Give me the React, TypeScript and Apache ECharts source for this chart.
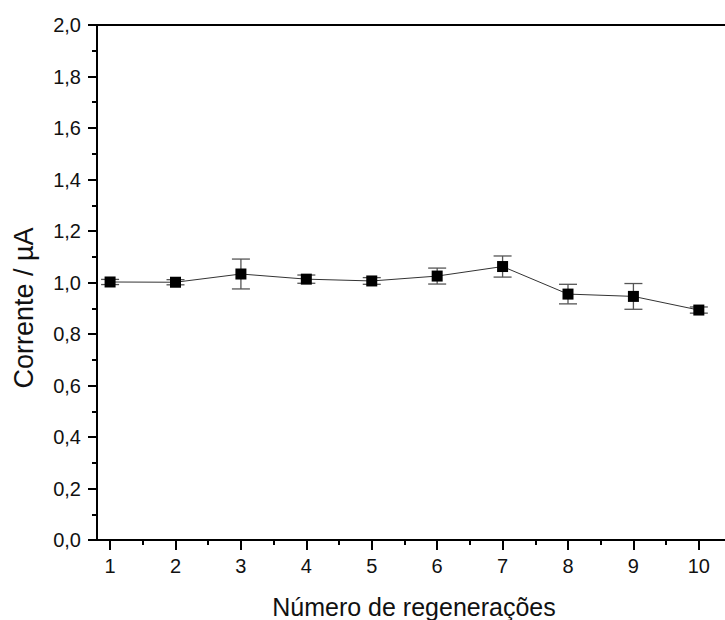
import React, { useEffect, useRef } from "react";
import * as echarts from "echarts";

const regenerations = [1, 2, 3, 4, 5, 6, 7, 8, 9, 10];
const current = [1.002, 1.001, 1.033, 1.013, 1.006, 1.025, 1.062, 0.955, 0.946, 0.893];
const errors = [0.01, 0.01, 0.058, 0.016, 0.013, 0.031, 0.041, 0.038, 0.05, 0.012];
const majorXTicks = [1, 2, 3, 4, 5, 6, 7, 8, 9, 10];
const minorXTicks = [1.5, 2.5, 3.5, 4.5, 5.5, 6.5, 7.5, 8.5, 9.5];

const FONT = "'Liberation Sans', Arial, sans-serif";

export default function App() {
  const ref = useRef<HTMLDivElement>(null);
  useEffect(() => {
    document.body.style.margin = "0";
    const chart = echarts.init(ref.current!, null, { renderer: "svg" });
    const pts = regenerations.map((x, i) => [x, current[i]]);
    const errData = regenerations.map((x, i) => [x, current[i] - errors[i], current[i] + errors[i]]);
    chart.setOption({
      animation: false,
      backgroundColor: "#fff",
      grid: { left: 97, top: 25, width: 633, height: 515, containLabel: false },
      xAxis: [
        {
          type: "value",
          min: 0.8,
          max: 10.4,
          position: "bottom",
          axisLine: { show: true, onZero: false, lineStyle: { color: "#000", width: 2 } },
          axisTick: { show: true, customValues: majorXTicks, length: 10, lineStyle: { color: "#000", width: 2 } },
          axisLabel: {
            show: true,
            customValues: majorXTicks,
            margin: 16,
            fontSize: 20,
            color: "#111",
            fontFamily: FONT,
          },
          splitLine: { show: false },
        },
        {
          type: "value",
          min: 0.8,
          max: 10.4,
          position: "bottom",
          axisLine: { show: false, onZero: false },
          axisTick: { show: true, customValues: minorXTicks, length: 5, lineStyle: { color: "#000", width: 2 } },
          axisLabel: { show: false },
          splitLine: { show: false },
        },
        {
          type: "value",
          min: 0.8,
          max: 10.4,
          position: "top",
          axisLine: { show: true, onZero: false, lineStyle: { color: "#000", width: 2 } },
          axisTick: { show: false },
          axisLabel: { show: false },
          splitLine: { show: false },
        },
      ],
      yAxis: {
        type: "value",
        min: 0,
        max: 2,
        interval: 0.2,
        axisLine: { show: true, onZero: false, lineStyle: { color: "#000", width: 2 } },
        axisTick: { show: true, length: 9, lineStyle: { color: "#000", width: 2 } },
        minorTick: { show: true, splitNumber: 2, length: 5, lineStyle: { color: "#000", width: 2 } },
        axisLabel: {
          margin: 16,
          fontSize: 20,
          color: "#111",
          fontFamily: FONT,
          formatter: (v: number) => v.toFixed(1).replace(".", ","),
        },
        splitLine: { show: false },
      },
      graphic: [
        {
          type: "text",
          x: 24,
          y: 308,
          rotation: Math.PI / 2,
          style: {
            text: "Corrente / µA",
            font: `27px ${FONT}`,
            fill: "#111",
            textAlign: "center",
            textVerticalAlign: "middle",
          },
        },
        {
          type: "text",
          x: 414,
          y: 607,
          style: {
            text: "Número de regenerações",
            font: `25px ${FONT}`,
            fill: "#111",
            textAlign: "center",
            textVerticalAlign: "middle",
          },
        },
        {
          type: "text",
          x: 123,
          y: -14,
          style: {
            text: "y",
            font: `24px ${FONT}`,
            fill: "#111",
            textAlign: "center",
            textVerticalAlign: "middle",
          },
        },
      ],
      series: [
        {
          type: "custom",
          xAxisIndex: 0,
          data: errData,
          renderItem: (params: any, api: any) => {
            const x = api.value(0);
            const lo = api.coord([x, api.value(1)]);
            const hi = api.coord([x, api.value(2)]);
            const cap = 9;
            const style = { stroke: "#555", lineWidth: 1.3 };
            return {
              type: "group",
              children: [
                { type: "line", shape: { x1: lo[0], y1: lo[1], x2: hi[0], y2: hi[1] }, style },
                { type: "line", shape: { x1: lo[0] - cap, y1: lo[1], x2: lo[0] + cap, y2: lo[1] }, style },
                { type: "line", shape: { x1: hi[0] - cap, y1: hi[1], x2: hi[0] + cap, y2: hi[1] }, style },
              ],
            };
          },
          z: 2,
        },
        {
          type: "line",
          xAxisIndex: 0,
          data: pts,
          symbol: "rect",
          symbolSize: 11,
          itemStyle: { color: "#000" },
          lineStyle: { color: "#333", width: 1 },
          z: 3,
        },
      ],
    });
    return () => chart.dispose();
  }, []);
  return <div ref={ref} style={{ width: 725, height: 620 }} />;
}
